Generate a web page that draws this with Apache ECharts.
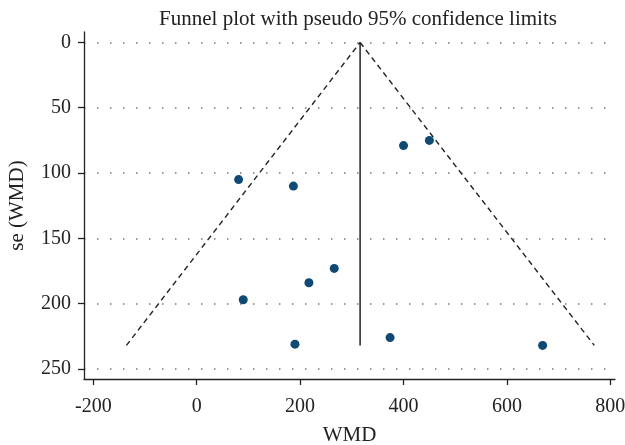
<!DOCTYPE html>
<html>
<head>
<meta charset="utf-8">
<script src="https://cdn.jsdelivr.net/npm/echarts@6/dist/echarts.min.js"></script>
<style>
  html, body { margin: 0; padding: 0; background: #fff; }
  #funnelChart { width: 625px; height: 445px; }
</style>
</head>
<body>
<div id="funnelChart"></div>
<script>
// study points: [WMD, se(WMD)]
var studies = [
    [400, 79], [450, 75], [81, 105], [187, 110], [266, 173],
    [217, 184], [90, 197], [190, 231], [374, 226], [669, 232]
];
// pseudo 95% limits and pooled estimate line
var lowerLimit = [[-136, 232], [316, 0]];
var upperLimit = [[316, 0], [769, 232]];
var pooledLine = [[316, 0], [316, 232]];

var xTicks = [-200, 0, 200, 400, 600, 800];
var yTicks = [0, 50, 100, 150, 200, 250];

var serif = 'Liberation Serif';

var myChart = echarts.init(document.getElementById('funnelChart'));

var option = {
    animation: false,
    title: {
        text: 'Funnel plot with pseudo 95% confidence limits',
        left: 353,
        textAlign: 'center',
        top: 4,
        textStyle: {
            fontFamily: serif,
            fontSize: 21,
            fontWeight: 'normal',
            color: '#222'
        }
    },
    grid: {
        left: 84,
        right: 10,
        top: 32,
        bottom: 66,
        containLabel: false,
        outerBoundsMode: 'none'
    },
    xAxis: {
        type: 'value',
        position: 'bottom',
        min: -218,
        max: 809,
        name: 'WMD',
        nameLocation: 'middle',
        nameGap: 46,
        nameTextStyle: { fontFamily: serif, fontSize: 21, color: '#222' },
        axisLine: { show: true, onZero: false, lineStyle: { color: '#222', width: 1.3 } },
        axisTick: { show: true, length: 6, customValues: xTicks, lineStyle: { color: '#222', width: 1.3 } },
        axisLabel: { customValues: xTicks, margin: 18, fontFamily: serif, fontSize: 20, color: '#222' },
        splitLine: { show: false }
    },
    yAxis: {
        type: 'value',
        position: 'left',
        inverse: true,
        min: -8,
        max: 257.7,
        name: 'se (WMD)',
        nameLocation: 'middle',
        nameGap: 56,
        nameTextStyle: { fontFamily: serif, fontSize: 21, color: '#222' },
        axisLine: { show: true, onZero: false, lineStyle: { color: '#222', width: 1.3 } },
        axisTick: { show: true, length: 6, customValues: yTicks, lineStyle: { color: '#222', width: 1.3 } },
        axisLabel: { customValues: yTicks, margin: 13, fontFamily: serif, fontSize: 20, color: '#222' },
        splitLine: {
            show: true,
            lineStyle: { color: '#777', width: 1.5, type: [1.5, 11.5] }
        }
    },
    series: [
        {
            type: 'line',
            data: lowerLimit,
            symbol: 'none',
            silent: true,
            lineStyle: { color: '#222', width: 1.4, type: [5.5, 4] }
        },
        {
            type: 'line',
            data: upperLimit,
            symbol: 'none',
            silent: true,
            lineStyle: { color: '#222', width: 1.4, type: [5.5, 4] }
        },
        {
            type: 'line',
            data: pooledLine,
            symbol: 'none',
            silent: true,
            lineStyle: { color: '#222', width: 1.5 }
        },
        {
            type: 'scatter',
            data: studies,
            symbol: 'circle',
            symbolSize: 9,
            itemStyle: { color: '#0f4a74', opacity: 1 }
        }
    ]
};

myChart.setOption(option);
</script>
</body>
</html>
